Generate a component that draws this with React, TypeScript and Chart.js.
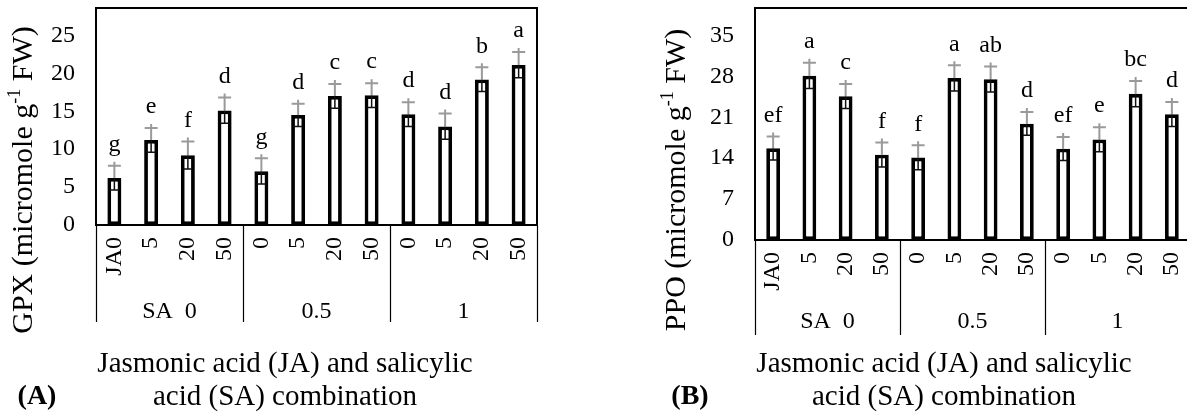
import React, { useEffect, useRef } from "react";
import { Chart, registerables } from "chart.js";

Chart.register(...registerables);

// ---------- data ----------
const categories = ["JA0", "5", "20", "50", "0", "5", "20", "50", "0", "5", "20", "50"];
const saGroups = ["SA  0", "0.5", "1"];

const gpxValues = [6.2, 11.2, 9.2, 15.1, 7.1, 14.5, 17.0, 17.1, 14.6, 13.0, 19.2, 21.1];
const gpxErrors = [1.6, 1.6, 1.8, 1.7, 1.7, 1.5, 1.6, 1.6, 1.6, 1.7, 1.6, 1.7];
const gpxLetters = ["g", "e", "f", "d", "g", "d", "c", "c", "d", "d", "b", "a"];
const gpxTicks = [0, 5, 10, 15, 20, 25];

const ppoValues = [15.7, 28.1, 24.6, 14.6, 14.1, 27.7, 27.5, 19.9, 15.6, 17.2, 25.0, 21.5];
const ppoErrors = [2.0, 2.2, 2.1, 2.1, 2.1, 2.2, 2.2, 2.0, 2.0, 2.1, 2.2, 2.1];
const ppoLetters = ["ef", "a", "c", "f", "f", "a", "ab", "d", "ef", "e", "bc", "d"];
const ppoTicks = [0, 7, 14, 21, 28, 35];

const xTitleLines = ["Jasmonic acid (JA) and salicylic", "acid (SA) combination"];

const FONT = "'Times New Roman', 'Liberation Serif', serif";

type Panel = {
  values: number[];
  errors: number[];
  letters: string[];
  ticks: number[];
  yTitle: [string, string, string];
  panelLabel: string;
  canvasLeft: number;
  canvasWidth: number;
  plotLeft: number;
  plotRight: number;
  plotTop: number;
  plotBottom: number;
  groupLabelOffset: number;
  sepLength: number;
  yTitleBaseline: number;
  panelLabelX: number;
};

const panels: Panel[] = [
  {
    values: gpxValues,
    errors: gpxErrors,
    letters: gpxLetters,
    ticks: gpxTicks,
    yTitle: ["GPX (micromole g", "-1", " FW)"],
    panelLabel: "(A)",
    canvasLeft: 0,
    canvasWidth: 590,
    plotLeft: 96,
    plotRight: 537,
    plotTop: 25,
    plotBottom: 225,
    groupLabelOffset: 87,
    sepLength: 97,
    yTitleBaseline: 32,
    panelLabelX: 37,
  },
  {
    values: ppoValues,
    errors: ppoErrors,
    letters: ppoLetters,
    ticks: ppoTicks,
    yTitle: ["PPO (micromole g", "-1", " FW)"],
    panelLabel: "(B)",
    canvasLeft: 590,
    canvasWidth: 605,
    plotLeft: 165,
    plotRight: 600,
    plotTop: 15,
    plotBottom: 240,
    groupLabelOffset: 82,
    sepLength: 95,
    yTitleBaseline: 95,
    panelLabelX: 100,
  },
];

const H = 412;

function makeChart(canvas: HTMLCanvasElement, p: Panel) {
  const decor = {
    id: "decor",
    afterDatasetsDraw(chart: any) {
      const ctx = chart.ctx as CanvasRenderingContext2D;
      const ca = chart.chartArea;
      const ys = chart.scales.y;
      const meta = chart.getDatasetMeta(0);
      ctx.save();
      // error bars + letters
      p.values.forEach((v, i) => {
        const bar = meta.data[i];
        const x = bar.x;
        const yv = ys.getPixelForValue(v);
        const yHi = ys.getPixelForValue(v + p.errors[i]);
        const yLo = ys.getPixelForValue(v - p.errors[i]);
        ctx.strokeStyle = "#111";
        ctx.lineWidth = 1.5;
        ctx.beginPath();
        ctx.moveTo(x, yLo);
        ctx.lineTo(x, yv);
        ctx.moveTo(x - 4.5, yLo);
        ctx.lineTo(x + 4.5, yLo);
        ctx.stroke();
        ctx.strokeStyle = "#9a9a9a";
        ctx.lineWidth = 2;
        ctx.beginPath();
        ctx.moveTo(x, yv);
        ctx.lineTo(x, yHi - 4);
        ctx.moveTo(x - 6.5, yHi);
        ctx.lineTo(x + 6.5, yHi);
        ctx.stroke();
        ctx.fillStyle = "#000";
        ctx.font = `24px ${FONT}`;
        ctx.textAlign = "center";
        ctx.textBaseline = "middle";
        ctx.fillText(p.letters[i], x, yHi - 21);
      });
      // frame
      ctx.strokeStyle = "#000";
      ctx.lineWidth = 2;
      ctx.strokeRect(ca.left, 8, ca.right - ca.left, ca.bottom - 8);
      // group separators & labels
      const gw = (ca.right - ca.left) / saGroups.length;
      ctx.lineWidth = 1.2;
      ctx.beginPath();
      for (let k = 0; k <= saGroups.length; k++) {
        const gx = Math.round(ca.left + k * gw) + 0.5;
        ctx.moveTo(gx, ca.bottom);
        ctx.lineTo(gx, ca.bottom + p.sepLength);
      }
      ctx.stroke();
      ctx.font = `24px ${FONT}`;
      ctx.textAlign = "center";
      ctx.textBaseline = "middle";
      saGroups.forEach((g, k) => {
        ctx.fillText(g, ca.left + (k + 0.5) * gw, ca.bottom + p.groupLabelOffset);
      });
      // x title
      ctx.font = `29px ${FONT}`;
      ctx.fillText(xTitleLines[0], ca.left + 189, 364);
      ctx.fillText(xTitleLines[1], ca.left + 189, 397);
      // panel label
      ctx.font = `bold 28px ${FONT}`;
      ctx.fillText(p.panelLabel, p.panelLabelX, 397);
      // y title with superscript
      const mainFont = `30px ${FONT}`;
      const supFont = `18px ${FONT}`;
      ctx.font = mainFont;
      const w0 = ctx.measureText(p.yTitle[0]).width;
      const w2 = ctx.measureText(p.yTitle[2]).width;
      ctx.font = supFont;
      const w1 = ctx.measureText(p.yTitle[1]).width;
      const total = w0 + w1 + w2;
      ctx.translate(p.yTitleBaseline, 180);
      ctx.rotate(-Math.PI / 2);
      ctx.textAlign = "left";
      ctx.textBaseline = "alphabetic";
      let sx = -total / 2;
      ctx.font = mainFont;
      ctx.fillText(p.yTitle[0], sx, 0);
      sx += w0;
      ctx.font = supFont;
      ctx.fillText(p.yTitle[1], sx, -12);
      sx += w1;
      ctx.font = mainFont;
      ctx.fillText(p.yTitle[2], sx, 0);
      ctx.restore();
    },
  };

  const yMax = p.ticks[p.ticks.length - 1];
  return new Chart(canvas, {
    type: "bar",
    data: {
      labels: categories,
      datasets: [
        {
          data: p.values,
          backgroundColor: "#ffffff",
          borderColor: "#000000",
          borderWidth: 3.8,
          borderSkipped: false,
          barPercentage: 0.38,
          categoryPercentage: 1,
        },
      ],
    },
    options: {
      responsive: false,
      animation: false,
      devicePixelRatio: 1,
      layout: {
        padding: { left: 0, right: p.canvasWidth - p.plotRight, top: p.plotTop, bottom: 0 },
      },
      plugins: { legend: { display: false }, tooltip: { enabled: false }, title: { display: false } },
      scales: {
        x: {
          grid: { display: false, drawTicks: false },
          border: { display: false },
          ticks: {
            autoSkip: false,
            minRotation: 90,
            maxRotation: 90,
            padding: 12,
            color: "#000",
            font: { family: FONT, size: 24 },
          },
          afterFit: (s: any) => {
            s.height = H - p.plotBottom;
            s.paddingLeft = 0;
            s.paddingRight = 0;
          },
        },
        y: {
          min: 0,
          max: yMax,
          grid: { display: false, drawTicks: false },
          border: { display: false },
          ticks: {
            stepSize: p.ticks[1] - p.ticks[0],
            padding: 21,
            color: "#000",
            font: { family: FONT, size: 24 },
          },
          afterBuildTicks: (s: any) => {
            s.ticks = p.ticks.map((v) => ({ value: v }));
          },
          afterFit: (s: any) => {
            s.width = p.plotLeft;
          },
        },
      },
    },
    plugins: [decor],
  } as any);
}

function PanelCanvas({ p }: { p: Panel }) {
  const ref = useRef<HTMLCanvasElement>(null);
  useEffect(() => {
    if (!ref.current) return;
    const c = makeChart(ref.current, p);
    return () => c.destroy();
  }, [p]);
  return (
    <canvas
      ref={ref}
      width={p.canvasWidth}
      height={H}
      style={{ position: "absolute", left: p.canvasLeft, top: 0, width: p.canvasWidth, height: H }}
    />
  );
}

export default function App() {
  return (
    <div
      style={{
        position: "absolute",
        left: 0,
        top: 0,
        width: 1187,
        height: H,
        overflow: "hidden",
        background: "#fff",
      }}
    >
      {panels.map((p, i) => (
        <PanelCanvas key={i} p={p} />
      ))}
    </div>
  );
}
